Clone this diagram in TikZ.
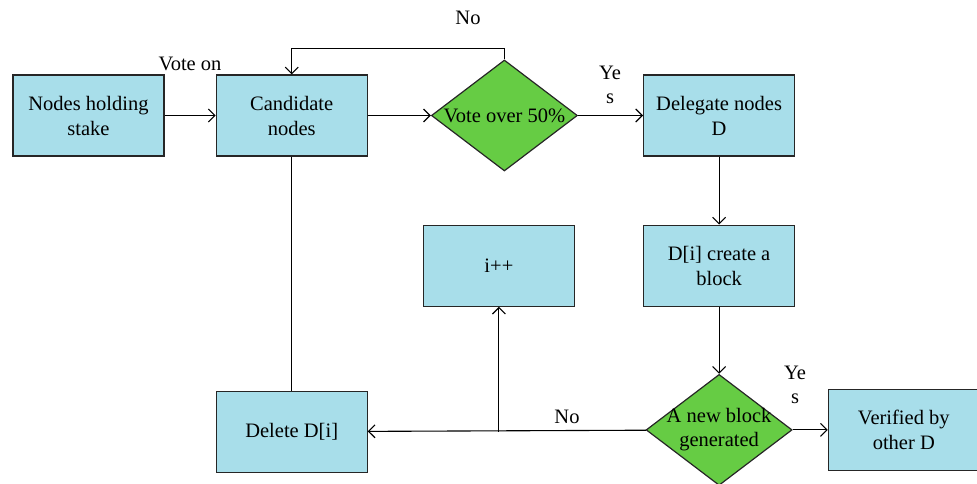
\documentclass[tikz,border=0pt]{standalone}
\usepackage{fontspec}
\setmainfont{Liberation Serif}
\usetikzlibrary{shapes.geometric,arrows.meta,positioning}
\definecolor{boxblue}{RGB}{168,222,234}
\definecolor{decgreen}{RGB}{102,204,68}

\begin{document}
\begin{tikzpicture}[
    x=1pt, y=-1pt,
    box/.style={draw=black!85, line width=1.2pt, fill=boxblue, rectangle, minimum width=151pt, minimum height=81pt, align=center, font=\fontsize{20.5}{25}\selectfont},
    decision/.style={draw=black!85, line width=1.2pt, fill=decgreen, diamond, minimum width=146pt, minimum height=111pt, inner sep=0pt},
    arrow/.style={-{Straight Barb[length=6.5pt,width=13pt]}, line width=1.1pt},
    line/.style={line width=1.1pt},
    lbl/.style={align=center, font=\fontsize{20.5}{24}\selectfont},
    node distance=52pt
]
\useasboundingbox (0,0) rectangle (977,484);

% Top row
\node[box] (hold) at (88.5,115.5) {Nodes holding\\stake};
\node[box, right=51pt of hold] (cand) {Candidate\\nodes};
\node[decision, right=63pt of cand, label={[lbl]center:Vote over 50\%}] (vote) {};
\node[box, right=65pt of vote] (deleg) {Delegate nodes\\D};

% Middle row
\node[box, below=68pt of deleg] (create) {D[i] create a\\block};
\node[box, left=68pt of create] (incr) {i++};

% Bottom row
\node[box, below=234pt of cand] (del) {Delete D[i]};
\node[decision, below=67pt of create, label={[lbl]center:A new block\\generated}] (newblk) {};
\node[box, right=35pt of newblk] (verif) {Verified by\\other D};

% Arrows
\draw[arrow] (hold) -- (cand);
\draw[arrow] (cand) -- (vote);
\draw[arrow] (vote) -- (deleg);
\draw[arrow] (vote.north) -- ++(0,-11) -| (cand.north);
\draw[arrow] (deleg) -- (create);
\draw[arrow] (create) -- (newblk);
\draw[arrow] (newblk) -- (verif);
\draw[arrow] (newblk) -- (del);
\coordinate (split) at (incr |- del);
\draw[arrow] (split) -- (incr);
\draw[line] (cand) -- (del);

% Labels
\node[lbl] (voteon) at (190,64) {Vote on};
\node[lbl] (no1) at (468,18) {No};
\node[lbl] (yes1) at (610,85) {Ye\\s};
\node[lbl] (yes2) at (795,385) {Ye\\s};
\node[lbl] (no2) at (567,417) {No};

\end{tikzpicture}
\end{document}
